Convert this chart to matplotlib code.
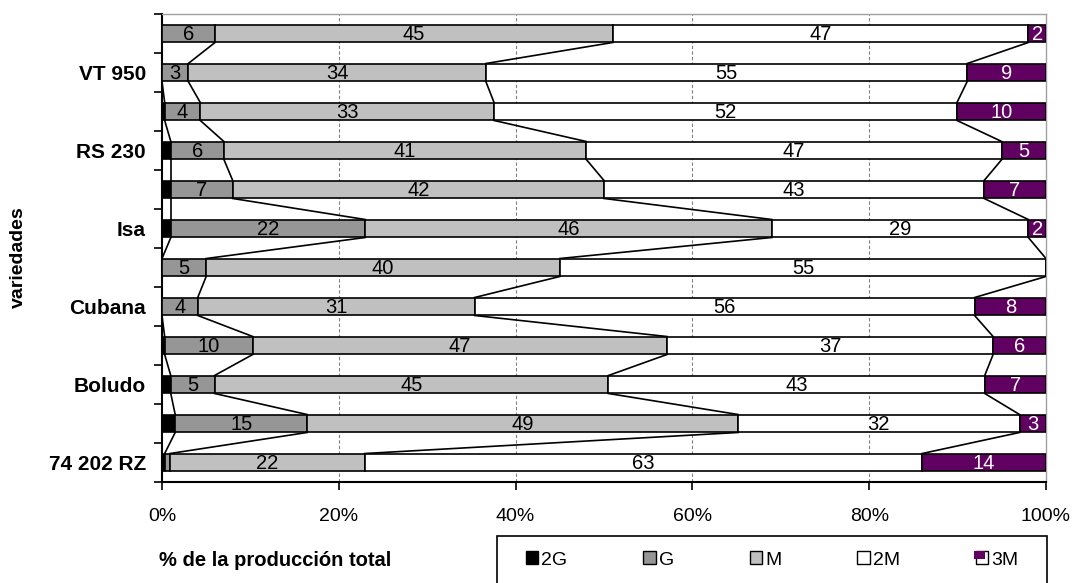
import numpy as np
import matplotlib
matplotlib.use("Agg")
import matplotlib.pyplot as plt
from matplotlib.patches import Patch, Rectangle
from matplotlib.legend_handler import HandlerBase

plt.rcParams['font.family'] = ['Liberation Sans', 'DejaVu Sans']

# Producción por calibre (%), filas de arriba a abajo
categorias = ['2G', 'G', 'M', '2M', '3M']
variedades = ['', 'VT 950', '', 'RS 230', '', 'Isa',
              '', 'Cubana', '', 'Boludo', '', '74 202 RZ']
v_2G = [0, 0, 0.3, 1, 1, 1, 0, 0, 0.3, 1, 1.5, 0.3]
v_G = [6, 3, 4, 6, 7, 22, 5, 4, 10, 5, 15, 0.6]
v_M = [45, 34, 33, 41, 42, 46, 40, 31, 47, 45, 49, 22]
v_2M = [47, 55, 52, 47, 43, 29, 55, 56, 37, 43, 32, 63]
v_3M = [2, 9, 10, 5, 7, 2, 0, 8, 6, 7, 3, 14]

colores = ['#000000', '#969696', '#c0c0c0', '#ffffff', '#600060']
col_texto = ['black', 'black', 'black', 'black', 'white']


class HandlerDoble(HandlerBase):
    """Cuadro blanco con un cuadro de color encima, desplazado."""
    def create_artists(self, legend, orig_handle, xdescent, ydescent,
                       width, height, fontsize, trans):
        blanco = Rectangle((-xdescent, -ydescent), width, height,
                           facecolor='white', edgecolor='black', lw=1,
                           transform=trans)
        color = Rectangle((-xdescent - 0.15 * width, -ydescent + 0.4 * height),
                          0.9 * width, 0.65 * height,
                          facecolor=orig_handle.get_facecolor(),
                          edgecolor='none', transform=trans)
        return [blanco, color]


datos = np.array([v_2G, v_G, v_M, v_2M, v_3M], dtype=float).T
# barras apiladas al 100%
pct = datos / datos.sum(axis=1, keepdims=True) * 100
acum = np.cumsum(pct, axis=1)
izq = acum - pct

fig = plt.figure(figsize=(10.77, 5.83), dpi=100)
ax = fig.add_axes([162/1077, 101/583, 884/1077, 468/583])

y = np.arange(len(variedades))
alto = 0.46

for x in [20, 40, 60, 80]:
    ax.axvline(x, color='#808080', lw=0.8, ls=(0, (3, 2)), zorder=0)

for k in range(len(categorias)):
    ax.barh(y, pct[:, k], left=izq[:, k], height=alto, color=colores[k],
            edgecolor='black', linewidth=1.2, label=categorias[k], zorder=3)
    for i in range(len(y)):
        val = datos[i, k]
        if val >= 2:
            ax.text(izq[i, k] + pct[i, k] / 2, y[i] + 0.03, f'{val:.0f}',
                    ha='center', va='center', fontsize=14.5,
                    color=col_texto[k], zorder=4)

# líneas de serie entre barras
for k in range(len(categorias) - 1):
    for i in range(len(y) - 1):
        ax.plot([acum[i, k], acum[i + 1, k]],
                [y[i] + alto / 2, y[i + 1] - alto / 2],
                color='black', lw=1.2, zorder=2)

ax.set_xlim(0, 100)
ax.set_ylim(len(y) - 0.5, -0.5)
ax.set_xticks([0, 20, 40, 60, 80, 100])
ax.set_xticklabels(['0%', '20%', '40%', '60%', '80%', '100%'], fontsize=14)
ax.tick_params(axis='x', direction='out', length=6, width=1.2, pad=13)

ax.set_yticks(y)
ax.set_yticklabels(variedades, fontsize=15, fontweight='bold')
ax.set_yticks(np.arange(-0.5, len(y)), minor=True)
ax.tick_params(axis='y', which='major', length=0, pad=11.5)
ax.tick_params(axis='y', which='minor', length=6, width=1.2, direction='out')

for lado in ['left', 'bottom']:
    ax.spines[lado].set_linewidth(1.5)
for lado in ['top', 'right']:
    ax.spines[lado].set_color('#a0a0a0')
    ax.spines[lado].set_linewidth(1)

fig.text(18/1077, 1 - 257/583, 'variedades', rotation=90, ha='center',
         va='center', fontsize=14, fontweight='bold')
fig.text(275/1077, 1 - 560/583, '% de la producción total', ha='center',
         va='center', fontsize=14.5, fontweight='bold')

# recuadro de la leyenda
fig.patches.append(Rectangle((497/1077, -0.02), 550/1077, 0.02 + 47/583,
                             transform=fig.transFigure, facecolor='white',
                             edgecolor='black', lw=1.2))
manejadores = [Patch(facecolor=c, edgecolor='black', linewidth=1)
               for c in colores]
fig.legend(manejadores, categorias, loc='center', ncol=5,
           bbox_to_anchor=(772/1077, 1 - 560/583), frameon=False,
           fontsize=14, handlelength=0.65, handleheight=0.65,
           handletextpad=0.15, columnspacing=3.9,
           handler_map={manejadores[4]: HandlerDoble()})

fig.savefig('out.png', dpi=100)
